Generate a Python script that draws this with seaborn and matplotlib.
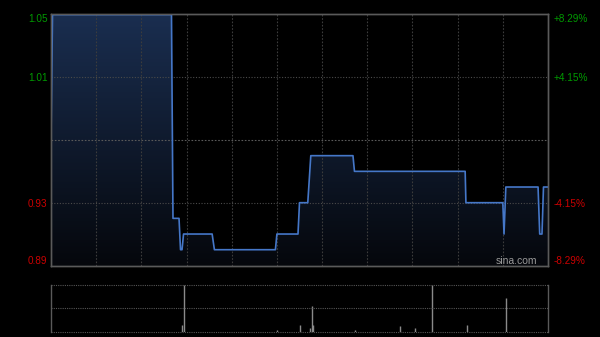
import numpy as np
import pandas as pd
import matplotlib
matplotlib.use("Agg")
import matplotlib.pyplot as plt
import seaborn as sns
from matplotlib.colors import LinearSegmentedColormap

# ---- data ----
price_minutes = [0, 1, 80, 81, 85, 86, 87, 88, 107, 108.5, 149, 150, 164, 165,
                 170.5, 172.5, 200.5, 201.5, 275, 275.5, 300, 300.8, 302,
                 323.4, 324.5, 326, 327, 330]
prices = [0.97, 1.05, 1.05, 0.92, 0.92, 0.90, 0.90, 0.91, 0.91, 0.90, 0.90,
          0.91, 0.91, 0.93, 0.93, 0.96, 0.96, 0.95, 0.95, 0.93, 0.93, 0.91,
          0.94, 0.94, 0.91, 0.91, 0.94, 0.94]
vol_minutes = [87, 88, 150, 165, 172, 173, 174, 202, 232, 242, 253, 276, 302]
volumes = [60000, 460000, 10000, 64000, 37000, 257000, 60000, 10000, 57000,
           34000, 460000, 64000, 327000]
prev_close = 0.97
span = 0.0804
left_labels = ['0.89', '0.93', '1.01', '1.05']
right_labels = ['-8.29%', '-4.15%', '+4.15%', '+8.29%']
total_minutes = 330

plt.rcParams['font.family'] = ['Liberation Sans', 'DejaVu Sans']

fig = plt.figure(figsize=(6, 3.37), dpi=100, facecolor='black')
ax = fig.add_axes([51/600, 1-266/337, 497/600, 252/337])
axv = fig.add_axes([51/600, 1-331.5/337, 497/600, 46.5/337])
for a in (ax, axv):
    a.set_facecolor('black')

ymin, ymax = prev_close - span, prev_close + span
tick_vals = [ymin, prev_close - span/2, prev_close + span/2, ymax]

df = pd.DataFrame({'minute': price_minutes, 'price': prices})

# gradient fill under line
poly = ax.fill_between(df['minute'], df['price'], ymin, color='none', lw=0)
cmap = LinearSegmentedColormap.from_list('g', ['#1a2e50', '#05070c'])
grad = np.linspace(0, 1, 256).reshape(-1, 1)
im = ax.imshow(grad, extent=[0, total_minutes, ymin, ymax], aspect='auto',
               cmap=cmap, origin='upper', zorder=1)
im.set_clip_path(poly.get_paths()[0], transform=ax.transData)

sns.lineplot(data=df, x='minute', y='price', ax=ax, color='#4577c8',
             linewidth=1.2, zorder=4)

ax.set_xlim(0, total_minutes)
ax.set_ylim(ymin, ymax)

# grid
for xm in range(30, total_minutes, 30):
    ax.axvline(xm, color='#3c3c3c', lw=0.8, ls=(0, (1.5, 1.5)), zorder=2)
for yv in [prev_close - span/2, prev_close + span/2]:
    ax.axhline(yv, color='#4a4a4a', lw=0.8, ls=(0, (1, 1.5)), zorder=2)
ax.axhline(prev_close, color='#5a5a5a', lw=0.8, ls=(0, (1.5, 1.5)), zorder=2)

ax.set_xticks([])
ax.set_xlabel('')
ax.set_ylabel('')
ax.set_yticks(tick_vals)
ax.set_yticklabels(left_labels)
ax.tick_params(axis='y', length=0, pad=2.5, labelsize=7.2)
lcols = ['#cc0000', '#cc0000', '#009a00', '#009a00']
for lab, c in zip(ax.get_yticklabels(), lcols):
    lab.set_color(c)
ax.get_yticklabels()[0].set_va('bottom')
ax.get_yticklabels()[-1].set_va('top')

ax2 = ax.twinx()
ax2.set_ylim(ymin, ymax)
ax2.set_yticks(tick_vals)
ax2.set_yticklabels(right_labels)
ax2.tick_params(axis='y', length=0, pad=4, labelsize=7.2)
for lab, c in zip(ax2.get_yticklabels(), lcols):
    lab.set_color(c)
ax2.get_yticklabels()[0].set_va('bottom')
ax2.get_yticklabels()[-1].set_va('top')

for a in (ax, ax2):
    for s in a.spines.values():
        s.set_color('#5a5a5a')
        s.set_linewidth(1)

ax.text((537-51)/497, 0.0, 'sina.com', transform=ax.transAxes, ha='right',
        va='bottom', color='#9a9a9a', fontsize=7.5, zorder=5)

# volume panel
axv.vlines(vol_minutes, 0, volumes, color='#8a8a8a', lw=1)
axv.set_xlim(0, total_minutes)
vmax = max(volumes)
axv.set_ylim(0, vmax)
for yv in [0, vmax/2, vmax]:
    axv.axhline(yv, color='#555555', lw=0.8, ls=(0, (1, 1)), clip_on=False)
axv.set_xticks([])
axv.set_yticks([])
for k in ['top', 'bottom']:
    axv.spines[k].set_visible(False)
for k in ['left', 'right']:
    axv.spines[k].set_color('#5a5a5a')
    axv.spines[k].set_linewidth(1)

fig.savefig('out.png', dpi=100, facecolor='black')
